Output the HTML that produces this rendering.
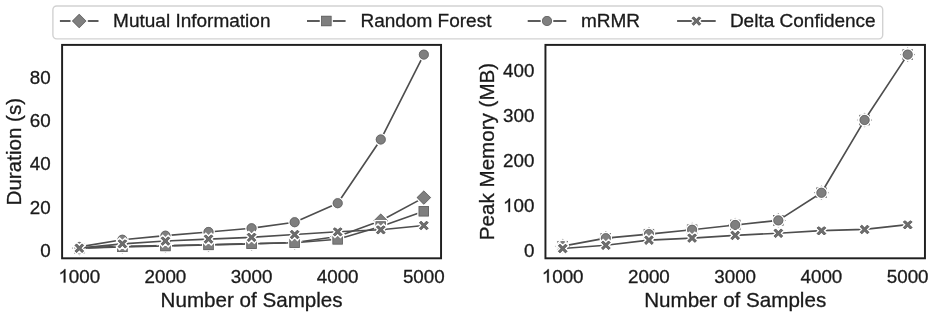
<!DOCTYPE html>
<html><head><meta charset="utf-8"><style>
html,body{margin:0;padding:0;background:#fff;}
body{width:935px;height:317px;overflow:hidden;font-family:"Liberation Sans", sans-serif;}
svg{display:block;filter:grayscale(1);}
text{fill:#1a1a1a;stroke:#1a1a1a;stroke-width:0.3px;}
</style></head><body>
<svg width="935" height="317" viewBox="0 0 935 317" font-family='"Liberation Sans", sans-serif' fill="#1a1a1a"><path d="M79.33 248.16 L122.39 246.43 L165.45 245.56 L208.51 244.70 L251.57 243.62 L294.64 242.54 L337.70 236.49 L380.76 220.72 L423.83 197.61" fill="none" stroke="#4e4e4e" stroke-width="1.65" stroke-linejoin="round" stroke-linecap="butt"/>
<path d="M79.33 239.97L87.51 248.16L79.33 256.35L71.14 248.16Z" fill="#7f7f7f" stroke="#fff" stroke-width="1.4" stroke-linejoin="miter"/><path d="M79.33 241.45L86.03 248.16L79.33 254.86L72.62 248.16Z" fill="none" stroke="#606060" stroke-width="0.7"/>
<path d="M122.39 238.24L130.58 246.43L122.39 254.62L114.20 246.43Z" fill="#7f7f7f" stroke="#fff" stroke-width="1.4" stroke-linejoin="miter"/><path d="M122.39 239.72L129.09 246.43L122.39 253.13L115.68 246.43Z" fill="none" stroke="#606060" stroke-width="0.7"/>
<path d="M165.45 237.37L173.64 245.56L165.45 253.75L157.26 245.56Z" fill="#7f7f7f" stroke="#fff" stroke-width="1.4" stroke-linejoin="miter"/><path d="M165.45 238.86L172.16 245.56L165.45 252.27L158.74 245.56Z" fill="none" stroke="#606060" stroke-width="0.7"/>
<path d="M208.51 236.51L216.70 244.70L208.51 252.89L200.32 244.70Z" fill="#7f7f7f" stroke="#fff" stroke-width="1.4" stroke-linejoin="miter"/><path d="M208.51 237.99L215.22 244.70L208.51 251.41L201.81 244.70Z" fill="none" stroke="#606060" stroke-width="0.7"/>
<path d="M251.57 235.43L259.76 243.62L251.57 251.81L243.39 243.62Z" fill="#7f7f7f" stroke="#fff" stroke-width="1.4" stroke-linejoin="miter"/><path d="M251.57 236.91L258.28 243.62L251.57 250.33L244.87 243.62Z" fill="none" stroke="#606060" stroke-width="0.7"/>
<path d="M294.64 234.35L302.83 242.54L294.64 250.73L286.45 242.54Z" fill="#7f7f7f" stroke="#fff" stroke-width="1.4" stroke-linejoin="miter"/><path d="M294.64 235.83L301.34 242.54L294.64 249.25L287.93 242.54Z" fill="none" stroke="#606060" stroke-width="0.7"/>
<path d="M337.70 228.30L345.89 236.49L337.70 244.68L329.51 236.49Z" fill="#7f7f7f" stroke="#fff" stroke-width="1.4" stroke-linejoin="miter"/><path d="M337.70 229.79L344.41 236.49L337.70 243.20L330.99 236.49Z" fill="none" stroke="#606060" stroke-width="0.7"/>
<path d="M380.76 212.53L388.95 220.72L380.76 228.91L372.57 220.72Z" fill="#7f7f7f" stroke="#fff" stroke-width="1.4" stroke-linejoin="miter"/><path d="M380.76 214.02L387.47 220.72L380.76 227.43L374.06 220.72Z" fill="none" stroke="#606060" stroke-width="0.7"/>
<path d="M423.83 189.42L432.01 197.61L423.83 205.80L415.64 197.61Z" fill="#7f7f7f" stroke="#fff" stroke-width="1.4" stroke-linejoin="miter"/><path d="M423.83 190.91L430.53 197.61L423.83 204.32L417.12 197.61Z" fill="none" stroke="#606060" stroke-width="0.7"/>
<path d="M79.33 248.16 L122.39 246.86 L165.45 246.00 L208.51 244.92 L251.57 243.84 L294.64 242.76 L337.70 239.30 L380.76 226.56 L423.83 211.22" fill="none" stroke="#4e4e4e" stroke-width="1.65" stroke-linejoin="round" stroke-linecap="butt"/>
<rect x="73.48" y="242.31" width="11.70" height="11.70" fill="#7f7f7f" stroke="#fff" stroke-width="1.4" stroke-linejoin="miter"/><rect x="74.53" y="243.36" width="9.60" height="9.60" fill="none" stroke="#606060" stroke-width="0.7"/>
<rect x="116.54" y="241.01" width="11.70" height="11.70" fill="#7f7f7f" stroke="#fff" stroke-width="1.4" stroke-linejoin="miter"/><rect x="117.59" y="242.06" width="9.60" height="9.60" fill="none" stroke="#606060" stroke-width="0.7"/>
<rect x="159.60" y="240.15" width="11.70" height="11.70" fill="#7f7f7f" stroke="#fff" stroke-width="1.4" stroke-linejoin="miter"/><rect x="160.65" y="241.20" width="9.60" height="9.60" fill="none" stroke="#606060" stroke-width="0.7"/>
<rect x="202.66" y="239.07" width="11.70" height="11.70" fill="#7f7f7f" stroke="#fff" stroke-width="1.4" stroke-linejoin="miter"/><rect x="203.71" y="240.12" width="9.60" height="9.60" fill="none" stroke="#606060" stroke-width="0.7"/>
<rect x="245.72" y="237.99" width="11.70" height="11.70" fill="#7f7f7f" stroke="#fff" stroke-width="1.4" stroke-linejoin="miter"/><rect x="246.77" y="239.04" width="9.60" height="9.60" fill="none" stroke="#606060" stroke-width="0.7"/>
<rect x="288.79" y="236.91" width="11.70" height="11.70" fill="#7f7f7f" stroke="#fff" stroke-width="1.4" stroke-linejoin="miter"/><rect x="289.84" y="237.96" width="9.60" height="9.60" fill="none" stroke="#606060" stroke-width="0.7"/>
<rect x="331.85" y="233.45" width="11.70" height="11.70" fill="#7f7f7f" stroke="#fff" stroke-width="1.4" stroke-linejoin="miter"/><rect x="332.90" y="234.50" width="9.60" height="9.60" fill="none" stroke="#606060" stroke-width="0.7"/>
<rect x="374.91" y="220.71" width="11.70" height="11.70" fill="#7f7f7f" stroke="#fff" stroke-width="1.4" stroke-linejoin="miter"/><rect x="375.96" y="221.76" width="9.60" height="9.60" fill="none" stroke="#606060" stroke-width="0.7"/>
<rect x="417.98" y="205.37" width="11.70" height="11.70" fill="#7f7f7f" stroke="#fff" stroke-width="1.4" stroke-linejoin="miter"/><rect x="419.03" y="206.42" width="9.60" height="9.60" fill="none" stroke="#606060" stroke-width="0.7"/>
<path d="M79.33 246.86 L122.39 239.73 L165.45 235.63 L208.51 231.96 L251.57 228.28 L294.64 222.24 L337.70 203.23 L380.76 139.51 L423.83 54.62" fill="none" stroke="#4e4e4e" stroke-width="1.65" stroke-linejoin="round" stroke-linecap="butt"/>
<circle cx="79.33" cy="246.86" r="5.650" fill="#7f7f7f" stroke="#fff" stroke-width="1.4" stroke-linejoin="miter"/><circle cx="79.33" cy="246.86" r="4.600" fill="none" stroke="#606060" stroke-width="0.7"/>
<circle cx="122.39" cy="239.73" r="5.650" fill="#7f7f7f" stroke="#fff" stroke-width="1.4" stroke-linejoin="miter"/><circle cx="122.39" cy="239.73" r="4.600" fill="none" stroke="#606060" stroke-width="0.7"/>
<circle cx="165.45" cy="235.63" r="5.650" fill="#7f7f7f" stroke="#fff" stroke-width="1.4" stroke-linejoin="miter"/><circle cx="165.45" cy="235.63" r="4.600" fill="none" stroke="#606060" stroke-width="0.7"/>
<circle cx="208.51" cy="231.96" r="5.650" fill="#7f7f7f" stroke="#fff" stroke-width="1.4" stroke-linejoin="miter"/><circle cx="208.51" cy="231.96" r="4.600" fill="none" stroke="#606060" stroke-width="0.7"/>
<circle cx="251.57" cy="228.28" r="5.650" fill="#7f7f7f" stroke="#fff" stroke-width="1.4" stroke-linejoin="miter"/><circle cx="251.57" cy="228.28" r="4.600" fill="none" stroke="#606060" stroke-width="0.7"/>
<circle cx="294.64" cy="222.24" r="5.650" fill="#7f7f7f" stroke="#fff" stroke-width="1.4" stroke-linejoin="miter"/><circle cx="294.64" cy="222.24" r="4.600" fill="none" stroke="#606060" stroke-width="0.7"/>
<circle cx="337.70" cy="203.23" r="5.650" fill="#7f7f7f" stroke="#fff" stroke-width="1.4" stroke-linejoin="miter"/><circle cx="337.70" cy="203.23" r="4.600" fill="none" stroke="#606060" stroke-width="0.7"/>
<circle cx="380.76" cy="139.51" r="5.650" fill="#7f7f7f" stroke="#fff" stroke-width="1.4" stroke-linejoin="miter"/><circle cx="380.76" cy="139.51" r="4.600" fill="none" stroke="#606060" stroke-width="0.7"/>
<circle cx="423.83" cy="54.62" r="5.650" fill="#7f7f7f" stroke="#fff" stroke-width="1.4" stroke-linejoin="miter"/><circle cx="423.83" cy="54.62" r="4.600" fill="none" stroke="#606060" stroke-width="0.7"/>
<path d="M79.33 248.16 L122.39 243.84 L165.45 241.03 L208.51 239.08 L251.57 237.36 L294.64 234.55 L337.70 231.74 L380.76 229.80 L423.83 225.48" fill="none" stroke="#4e4e4e" stroke-width="1.65" stroke-linejoin="round" stroke-linecap="butt"/>
<polygon points="82.08,242.36 85.12,245.40 82.37,248.16 85.12,250.91 82.08,253.95 79.33,251.20 76.57,253.95 73.53,250.91 76.28,248.16 73.53,245.40 76.57,242.36 79.33,245.12" fill="#6e6e6e" stroke="#fff" stroke-width="1.5" stroke-linejoin="miter"/><polygon points="82.08,243.84 83.64,245.40 80.88,248.16 83.64,250.91 82.08,252.47 79.33,249.71 76.57,252.47 75.01,250.91 77.77,248.16 75.01,245.40 76.57,243.84 79.33,246.60" fill="none" stroke="#5a5a5a" stroke-width="0.6" stroke-linejoin="miter"/>
<polygon points="125.15,238.04 128.19,241.08 125.43,243.84 128.19,246.59 125.15,249.63 122.39,246.88 119.63,249.63 116.59,246.59 119.35,243.84 116.59,241.08 119.63,238.04 122.39,240.80" fill="#6e6e6e" stroke="#fff" stroke-width="1.5" stroke-linejoin="miter"/><polygon points="125.15,239.52 126.70,241.08 123.94,243.84 126.70,246.59 125.15,248.15 122.39,245.39 119.63,248.15 118.07,246.59 120.83,243.84 118.07,241.08 119.63,239.52 122.39,242.28" fill="none" stroke="#5a5a5a" stroke-width="0.6" stroke-linejoin="miter"/>
<polygon points="168.21,235.23 171.25,238.27 168.49,241.03 171.25,243.79 168.21,246.83 165.45,244.07 162.69,246.83 159.65,243.79 162.41,241.03 159.65,238.27 162.69,235.23 165.45,237.99" fill="#6e6e6e" stroke="#fff" stroke-width="1.5" stroke-linejoin="miter"/><polygon points="168.21,236.71 169.76,238.27 167.01,241.03 169.76,243.79 168.21,245.34 165.45,242.58 162.69,245.34 161.14,243.79 163.89,241.03 161.14,238.27 162.69,236.71 165.45,239.47" fill="none" stroke="#5a5a5a" stroke-width="0.6" stroke-linejoin="miter"/>
<polygon points="211.27,233.29 214.31,236.33 211.55,239.08 214.31,241.84 211.27,244.88 208.51,242.12 205.75,244.88 202.71,241.84 205.47,239.08 202.71,236.33 205.75,233.29 208.51,236.04" fill="#6e6e6e" stroke="#fff" stroke-width="1.5" stroke-linejoin="miter"/><polygon points="211.27,234.77 212.83,236.33 210.07,239.08 212.83,241.84 211.27,243.40 208.51,240.64 205.75,243.40 204.20,241.84 206.96,239.08 204.20,236.33 205.75,234.77 208.51,237.53" fill="none" stroke="#5a5a5a" stroke-width="0.6" stroke-linejoin="miter"/>
<polygon points="254.33,231.56 257.37,234.60 254.62,237.36 257.37,240.11 254.33,243.15 251.57,240.40 248.82,243.15 245.78,240.11 248.53,237.36 245.78,234.60 248.82,231.56 251.57,234.32" fill="#6e6e6e" stroke="#fff" stroke-width="1.5" stroke-linejoin="miter"/><polygon points="254.33,233.04 255.89,234.60 253.13,237.36 255.89,240.11 254.33,241.67 251.57,238.91 248.82,241.67 247.26,240.11 250.02,237.36 247.26,234.60 248.82,233.04 251.57,235.80" fill="none" stroke="#5a5a5a" stroke-width="0.6" stroke-linejoin="miter"/>
<polygon points="297.40,228.75 300.44,231.79 297.68,234.55 300.44,237.31 297.40,240.35 294.64,237.59 291.88,240.35 288.84,237.31 291.60,234.55 288.84,231.79 291.88,228.75 294.64,231.51" fill="#6e6e6e" stroke="#fff" stroke-width="1.5" stroke-linejoin="miter"/><polygon points="297.40,230.23 298.95,231.79 296.19,234.55 298.95,237.31 297.40,238.86 294.64,236.10 291.88,238.86 290.32,237.31 293.08,234.55 290.32,231.79 291.88,230.23 294.64,232.99" fill="none" stroke="#5a5a5a" stroke-width="0.6" stroke-linejoin="miter"/>
<polygon points="340.46,225.94 343.50,228.98 340.74,231.74 343.50,234.50 340.46,237.54 337.70,234.78 334.94,237.54 331.90,234.50 334.66,231.74 331.90,228.98 334.94,225.94 337.70,228.70" fill="#6e6e6e" stroke="#fff" stroke-width="1.5" stroke-linejoin="miter"/><polygon points="340.46,227.43 342.01,228.98 339.26,231.74 342.01,234.50 340.46,236.05 337.70,233.30 334.94,236.05 333.39,234.50 336.14,231.74 333.39,228.98 334.94,227.43 337.70,230.18" fill="none" stroke="#5a5a5a" stroke-width="0.6" stroke-linejoin="miter"/>
<polygon points="383.52,224.00 386.56,227.04 383.80,229.80 386.56,232.55 383.52,235.59 380.76,232.84 378.00,235.59 374.96,232.55 377.72,229.80 374.96,227.04 378.00,224.00 380.76,226.76" fill="#6e6e6e" stroke="#fff" stroke-width="1.5" stroke-linejoin="miter"/><polygon points="383.52,225.48 385.08,227.04 382.32,229.80 385.08,232.55 383.52,234.11 380.76,231.35 378.00,234.11 376.45,232.55 379.21,229.80 376.45,227.04 378.00,225.48 380.76,228.24" fill="none" stroke="#5a5a5a" stroke-width="0.6" stroke-linejoin="miter"/>
<polygon points="426.58,219.68 429.62,222.72 426.87,225.48 429.62,228.23 426.58,231.27 423.83,228.52 421.07,231.27 418.03,228.23 420.78,225.48 418.03,222.72 421.07,219.68 423.83,222.44" fill="#6e6e6e" stroke="#fff" stroke-width="1.5" stroke-linejoin="miter"/><polygon points="426.58,221.16 428.14,222.72 425.38,225.48 428.14,228.23 426.58,229.79 423.83,227.03 421.07,229.79 419.51,228.23 422.27,225.48 419.51,222.72 421.07,221.16 423.83,223.92" fill="none" stroke="#5a5a5a" stroke-width="0.6" stroke-linejoin="miter"/>
<rect x="62.10" y="44.90" width="378.95" height="213.40" fill="none" stroke="#1f1f1f" stroke-width="1.95"/>
<text x="58.41" y="282.60" font-size="18.8"><tspan style="fill:none;stroke:none">1</tspan>000</text>
<path transform="translate(58.41 282.60) scale(18.8 -18.8)" d="M0.3726,0 L0.2847,0 L0.2847,0.560 Q0.2529,0.530 0.2124,0.500 Q0.1600,0.463 0.1089,0.445 L0.1089,0.530 Q0.1724,0.560 0.2261,0.603 Q0.2803,0.647 0.3027,0.687 L0.3184,0.716 L0.3726,0.716 Z" fill="#1a1a1a" stroke="#1a1a1a" stroke-width="0.0160"/>
<text x="144.54" y="282.60" font-size="18.8">2000</text>
<text x="230.66" y="282.60" font-size="18.8">3000</text>
<text x="316.79" y="282.60" font-size="18.8">4000</text>
<text x="402.91" y="282.60" font-size="18.8">5000</text>
<text x="40.14" y="256.80" font-size="18.8">0</text>
<text x="29.69" y="213.60" font-size="18.8">20</text>
<text x="29.69" y="170.40" font-size="18.8">40</text>
<text x="29.69" y="127.20" font-size="18.8">60</text>
<text x="29.69" y="84.00" font-size="18.8">80</text>
<text x="251.58" y="307.0" text-anchor="middle" font-size="20.6">Number of Samples</text>
<path d="M562.70 237.93L570.89 246.12L562.70 254.31L554.51 246.12Z" fill="#7f7f7f" stroke="#fff" stroke-width="1.4" stroke-linejoin="miter"/><path d="M562.70 239.41L569.41 246.12L562.70 252.82L555.99 246.12Z" fill="none" stroke="#606060" stroke-width="0.7"/>
<path d="M605.83 229.99L614.01 238.18L605.83 246.37L597.64 238.18Z" fill="#7f7f7f" stroke="#fff" stroke-width="1.4" stroke-linejoin="miter"/><path d="M605.83 231.47L612.53 238.18L605.83 244.88L599.12 238.18Z" fill="none" stroke="#606060" stroke-width="0.7"/>
<path d="M648.95 225.93L657.14 234.12L648.95 242.31L640.76 234.12Z" fill="#7f7f7f" stroke="#fff" stroke-width="1.4" stroke-linejoin="miter"/><path d="M648.95 227.41L655.66 234.12L648.95 240.82L642.24 234.12Z" fill="none" stroke="#606060" stroke-width="0.7"/>
<path d="M692.08 221.60L700.26 229.79L692.08 237.97L683.89 229.79Z" fill="#7f7f7f" stroke="#fff" stroke-width="1.4" stroke-linejoin="miter"/><path d="M692.08 223.08L698.78 229.79L692.08 236.49L685.37 229.79Z" fill="none" stroke="#606060" stroke-width="0.7"/>
<path d="M735.20 216.77L743.39 224.96L735.20 233.15L727.01 224.96Z" fill="#7f7f7f" stroke="#fff" stroke-width="1.4" stroke-linejoin="miter"/><path d="M735.20 218.25L741.91 224.96L735.20 231.66L728.49 224.96Z" fill="none" stroke="#606060" stroke-width="0.7"/>
<path d="M778.33 212.21L786.51 220.40L778.33 228.59L770.14 220.40Z" fill="#7f7f7f" stroke="#fff" stroke-width="1.4" stroke-linejoin="miter"/><path d="M778.33 213.69L785.03 220.40L778.33 227.11L771.62 220.40Z" fill="none" stroke="#606060" stroke-width="0.7"/>
<path d="M821.45 184.60L829.64 192.79L821.45 200.98L813.26 192.79Z" fill="#7f7f7f" stroke="#fff" stroke-width="1.4" stroke-linejoin="miter"/><path d="M821.45 186.08L828.16 192.79L821.45 199.49L814.74 192.79Z" fill="none" stroke="#606060" stroke-width="0.7"/>
<path d="M864.58 111.86L872.76 120.05L864.58 128.24L856.39 120.05Z" fill="#7f7f7f" stroke="#fff" stroke-width="1.4" stroke-linejoin="miter"/><path d="M864.58 113.35L871.28 120.05L864.58 126.76L857.87 120.05Z" fill="none" stroke="#606060" stroke-width="0.7"/>
<path d="M907.70 46.39L915.89 54.58L907.70 62.77L899.51 54.58Z" fill="#7f7f7f" stroke="#fff" stroke-width="1.4" stroke-linejoin="miter"/><path d="M907.70 47.88L914.41 54.58L907.70 61.29L900.99 54.58Z" fill="none" stroke="#606060" stroke-width="0.7"/>
<rect x="556.85" y="240.27" width="11.70" height="11.70" fill="#7f7f7f" stroke="#fff" stroke-width="1.4" stroke-linejoin="miter"/><rect x="557.90" y="241.32" width="9.60" height="9.60" fill="none" stroke="#606060" stroke-width="0.7"/>
<rect x="599.98" y="232.33" width="11.70" height="11.70" fill="#7f7f7f" stroke="#fff" stroke-width="1.4" stroke-linejoin="miter"/><rect x="601.03" y="233.38" width="9.60" height="9.60" fill="none" stroke="#606060" stroke-width="0.7"/>
<rect x="643.10" y="228.27" width="11.70" height="11.70" fill="#7f7f7f" stroke="#fff" stroke-width="1.4" stroke-linejoin="miter"/><rect x="644.15" y="229.32" width="9.60" height="9.60" fill="none" stroke="#606060" stroke-width="0.7"/>
<rect x="686.23" y="223.94" width="11.70" height="11.70" fill="#7f7f7f" stroke="#fff" stroke-width="1.4" stroke-linejoin="miter"/><rect x="687.28" y="224.99" width="9.60" height="9.60" fill="none" stroke="#606060" stroke-width="0.7"/>
<rect x="729.35" y="219.11" width="11.70" height="11.70" fill="#7f7f7f" stroke="#fff" stroke-width="1.4" stroke-linejoin="miter"/><rect x="730.40" y="220.16" width="9.60" height="9.60" fill="none" stroke="#606060" stroke-width="0.7"/>
<rect x="772.48" y="214.55" width="11.70" height="11.70" fill="#7f7f7f" stroke="#fff" stroke-width="1.4" stroke-linejoin="miter"/><rect x="773.53" y="215.60" width="9.60" height="9.60" fill="none" stroke="#606060" stroke-width="0.7"/>
<rect x="815.60" y="186.94" width="11.70" height="11.70" fill="#7f7f7f" stroke="#fff" stroke-width="1.4" stroke-linejoin="miter"/><rect x="816.65" y="187.99" width="9.60" height="9.60" fill="none" stroke="#606060" stroke-width="0.7"/>
<rect x="858.73" y="114.20" width="11.70" height="11.70" fill="#7f7f7f" stroke="#fff" stroke-width="1.4" stroke-linejoin="miter"/><rect x="859.78" y="115.25" width="9.60" height="9.60" fill="none" stroke="#606060" stroke-width="0.7"/>
<rect x="901.85" y="48.73" width="11.70" height="11.70" fill="#7f7f7f" stroke="#fff" stroke-width="1.4" stroke-linejoin="miter"/><rect x="902.90" y="49.78" width="9.60" height="9.60" fill="none" stroke="#606060" stroke-width="0.7"/>
<path d="M562.70 246.12 L605.83 238.18 L648.95 234.12 L692.08 229.79 L735.20 224.96 L778.33 220.40 L821.45 192.79 L864.58 120.05 L907.70 54.58" fill="none" stroke="#4e4e4e" stroke-width="1.65" stroke-linejoin="round" stroke-linecap="butt"/>
<circle cx="562.70" cy="246.12" r="5.650" fill="#7f7f7f" stroke="#fff" stroke-width="1.4" stroke-linejoin="miter"/><circle cx="562.70" cy="246.12" r="4.600" fill="none" stroke="#606060" stroke-width="0.7"/>
<circle cx="605.83" cy="238.18" r="5.650" fill="#7f7f7f" stroke="#fff" stroke-width="1.4" stroke-linejoin="miter"/><circle cx="605.83" cy="238.18" r="4.600" fill="none" stroke="#606060" stroke-width="0.7"/>
<circle cx="648.95" cy="234.12" r="5.650" fill="#7f7f7f" stroke="#fff" stroke-width="1.4" stroke-linejoin="miter"/><circle cx="648.95" cy="234.12" r="4.600" fill="none" stroke="#606060" stroke-width="0.7"/>
<circle cx="692.08" cy="229.79" r="5.650" fill="#7f7f7f" stroke="#fff" stroke-width="1.4" stroke-linejoin="miter"/><circle cx="692.08" cy="229.79" r="4.600" fill="none" stroke="#606060" stroke-width="0.7"/>
<circle cx="735.20" cy="224.96" r="5.650" fill="#7f7f7f" stroke="#fff" stroke-width="1.4" stroke-linejoin="miter"/><circle cx="735.20" cy="224.96" r="4.600" fill="none" stroke="#606060" stroke-width="0.7"/>
<circle cx="778.33" cy="220.40" r="5.650" fill="#7f7f7f" stroke="#fff" stroke-width="1.4" stroke-linejoin="miter"/><circle cx="778.33" cy="220.40" r="4.600" fill="none" stroke="#606060" stroke-width="0.7"/>
<circle cx="821.45" cy="192.79" r="5.650" fill="#7f7f7f" stroke="#fff" stroke-width="1.4" stroke-linejoin="miter"/><circle cx="821.45" cy="192.79" r="4.600" fill="none" stroke="#606060" stroke-width="0.7"/>
<circle cx="864.58" cy="120.05" r="5.650" fill="#7f7f7f" stroke="#fff" stroke-width="1.4" stroke-linejoin="miter"/><circle cx="864.58" cy="120.05" r="4.600" fill="none" stroke="#606060" stroke-width="0.7"/>
<circle cx="907.70" cy="54.58" r="5.650" fill="#7f7f7f" stroke="#fff" stroke-width="1.4" stroke-linejoin="miter"/><circle cx="907.70" cy="54.58" r="4.600" fill="none" stroke="#606060" stroke-width="0.7"/>
<path d="M562.70 248.55 L605.83 245.26 L648.95 240.12 L692.08 238.09 L735.20 235.38 L778.33 233.21 L821.45 230.69 L864.58 229.42 L907.70 224.69" fill="none" stroke="#4e4e4e" stroke-width="1.65" stroke-linejoin="round" stroke-linecap="butt"/>
<polygon points="565.46,242.76 568.50,245.80 565.74,248.55 568.50,251.31 565.46,254.35 562.70,251.60 559.94,254.35 556.90,251.31 559.66,248.55 556.90,245.80 559.94,242.76 562.70,245.51" fill="#6e6e6e" stroke="#fff" stroke-width="1.5" stroke-linejoin="miter"/><polygon points="565.46,244.24 567.01,245.80 564.26,248.55 567.01,251.31 565.46,252.87 562.70,250.11 559.94,252.87 558.39,251.31 561.14,248.55 558.39,245.80 559.94,244.24 562.70,247.00" fill="none" stroke="#5a5a5a" stroke-width="0.6" stroke-linejoin="miter"/>
<polygon points="608.58,239.46 611.62,242.50 608.87,245.26 611.62,248.02 608.58,251.06 605.83,248.30 603.07,251.06 600.03,248.02 602.78,245.26 600.03,242.50 603.07,239.46 605.83,242.22" fill="#6e6e6e" stroke="#fff" stroke-width="1.5" stroke-linejoin="miter"/><polygon points="608.58,240.95 610.14,242.50 607.38,245.26 610.14,248.02 608.58,249.57 605.83,246.82 603.07,249.57 601.51,248.02 604.27,245.26 601.51,242.50 603.07,240.95 605.83,243.71" fill="none" stroke="#5a5a5a" stroke-width="0.6" stroke-linejoin="miter"/>
<polygon points="651.71,234.32 654.75,237.36 651.99,240.12 654.75,242.88 651.71,245.92 648.95,243.16 646.19,245.92 643.15,242.88 645.91,240.12 643.15,237.36 646.19,234.32 648.95,237.08" fill="#6e6e6e" stroke="#fff" stroke-width="1.5" stroke-linejoin="miter"/><polygon points="651.71,235.80 653.26,237.36 650.51,240.12 653.26,242.88 651.71,244.43 648.95,241.67 646.19,244.43 644.64,242.88 647.39,240.12 644.64,237.36 646.19,235.80 648.95,238.56" fill="none" stroke="#5a5a5a" stroke-width="0.6" stroke-linejoin="miter"/>
<polygon points="694.83,232.29 697.87,235.33 695.12,238.09 697.87,240.84 694.83,243.89 692.08,241.13 689.32,243.89 686.28,240.84 689.03,238.09 686.28,235.33 689.32,232.29 692.08,235.05" fill="#6e6e6e" stroke="#fff" stroke-width="1.5" stroke-linejoin="miter"/><polygon points="694.83,233.77 696.39,235.33 693.63,238.09 696.39,240.84 694.83,242.40 692.08,239.64 689.32,242.40 687.76,240.84 690.52,238.09 687.76,235.33 689.32,233.77 692.08,236.53" fill="none" stroke="#5a5a5a" stroke-width="0.6" stroke-linejoin="miter"/>
<polygon points="737.96,229.58 741.00,232.62 738.24,235.38 741.00,238.14 737.96,241.18 735.20,238.42 732.44,241.18 729.40,238.14 732.16,235.38 729.40,232.62 732.44,229.58 735.20,232.34" fill="#6e6e6e" stroke="#fff" stroke-width="1.5" stroke-linejoin="miter"/><polygon points="737.96,231.07 739.51,232.62 736.76,235.38 739.51,238.14 737.96,239.69 735.20,236.94 732.44,239.69 730.89,238.14 733.64,235.38 730.89,232.62 732.44,231.07 735.20,233.82" fill="none" stroke="#5a5a5a" stroke-width="0.6" stroke-linejoin="miter"/>
<polygon points="781.08,227.42 784.12,230.46 781.37,233.21 784.12,235.97 781.08,239.01 778.33,236.25 775.57,239.01 772.53,235.97 775.28,233.21 772.53,230.46 775.57,227.42 778.33,230.17" fill="#6e6e6e" stroke="#fff" stroke-width="1.5" stroke-linejoin="miter"/><polygon points="781.08,228.90 782.64,230.46 779.88,233.21 782.64,235.97 781.08,237.53 778.33,234.77 775.57,237.53 774.01,235.97 776.77,233.21 774.01,230.46 775.57,228.90 778.33,231.66" fill="none" stroke="#5a5a5a" stroke-width="0.6" stroke-linejoin="miter"/>
<polygon points="824.21,224.89 827.25,227.93 824.49,230.69 827.25,233.45 824.21,236.49 821.45,233.73 818.69,236.49 815.65,233.45 818.41,230.69 815.65,227.93 818.69,224.89 821.45,227.65" fill="#6e6e6e" stroke="#fff" stroke-width="1.5" stroke-linejoin="miter"/><polygon points="824.21,226.37 825.76,227.93 823.01,230.69 825.76,233.45 824.21,235.00 821.45,232.24 818.69,235.00 817.14,233.45 819.89,230.69 817.14,227.93 818.69,226.37 821.45,229.13" fill="none" stroke="#5a5a5a" stroke-width="0.6" stroke-linejoin="miter"/>
<polygon points="867.33,223.63 870.37,226.67 867.62,229.42 870.37,232.18 867.33,235.22 864.58,232.46 861.82,235.22 858.78,232.18 861.53,229.42 858.78,226.67 861.82,223.63 864.58,226.38" fill="#6e6e6e" stroke="#fff" stroke-width="1.5" stroke-linejoin="miter"/><polygon points="867.33,225.11 868.89,226.67 866.13,229.42 868.89,232.18 867.33,233.74 864.58,230.98 861.82,233.74 860.26,232.18 863.02,229.42 860.26,226.67 861.82,225.11 864.58,227.87" fill="none" stroke="#5a5a5a" stroke-width="0.6" stroke-linejoin="miter"/>
<polygon points="910.46,218.89 913.50,221.93 910.74,224.69 913.50,227.44 910.46,230.48 907.70,227.73 904.94,230.48 901.90,227.44 904.66,224.69 901.90,221.93 904.94,218.89 907.70,221.65" fill="#6e6e6e" stroke="#fff" stroke-width="1.5" stroke-linejoin="miter"/><polygon points="910.46,220.37 912.01,221.93 909.26,224.69 912.01,227.44 910.46,229.00 907.70,226.24 904.94,229.00 903.39,227.44 906.14,224.69 903.39,221.93 904.94,220.37 907.70,223.13" fill="none" stroke="#5a5a5a" stroke-width="0.6" stroke-linejoin="miter"/>
<rect x="545.45" y="44.90" width="379.50" height="213.40" fill="none" stroke="#1f1f1f" stroke-width="1.95"/>
<text x="541.79" y="282.60" font-size="18.8"><tspan style="fill:none;stroke:none">1</tspan>000</text>
<path transform="translate(541.79 282.60) scale(18.8 -18.8)" d="M0.3726,0 L0.2847,0 L0.2847,0.560 Q0.2529,0.530 0.2124,0.500 Q0.1600,0.463 0.1089,0.445 L0.1089,0.530 Q0.1724,0.560 0.2261,0.603 Q0.2803,0.647 0.3027,0.687 L0.3184,0.716 L0.3726,0.716 Z" fill="#1a1a1a" stroke="#1a1a1a" stroke-width="0.0160"/>
<text x="628.04" y="282.60" font-size="18.8">2000</text>
<text x="714.29" y="282.60" font-size="18.8">3000</text>
<text x="800.54" y="282.60" font-size="18.8">4000</text>
<text x="886.79" y="282.60" font-size="18.8">5000</text>
<text x="523.94" y="257.15" font-size="18.8">0</text>
<text x="503.03" y="212.03" font-size="18.8"><tspan style="fill:none;stroke:none">1</tspan>00</text>
<path transform="translate(503.03 212.03) scale(18.8 -18.8)" d="M0.3726,0 L0.2847,0 L0.2847,0.560 Q0.2529,0.530 0.2124,0.500 Q0.1600,0.463 0.1089,0.445 L0.1089,0.530 Q0.1724,0.560 0.2261,0.603 Q0.2803,0.647 0.3027,0.687 L0.3184,0.716 L0.3726,0.716 Z" fill="#1a1a1a" stroke="#1a1a1a" stroke-width="0.0160"/>
<text x="503.03" y="166.91" font-size="18.8">200</text>
<text x="503.03" y="121.79" font-size="18.8">300</text>
<text x="503.03" y="76.67" font-size="18.8">400</text>
<text x="735.20" y="307.0" text-anchor="middle" font-size="20.6">Number of Samples</text>
<text transform="translate(20.8 151.7) rotate(-90)" text-anchor="middle" font-size="20.6">Duration (s)</text>
<text transform="translate(494.0 151.5) rotate(-90)" text-anchor="middle" font-size="20.6">Peak Memory (MB)</text>
<rect x="52.9" y="6.0" width="829.8" height="32.9" rx="3.8" ry="3.8" fill="#fff" fill-opacity="0.8" stroke="#d2d2d2" stroke-width="1.4"/>
<path d="M59.90 21.0L98.50 21.0" stroke="#5c5c5c" stroke-width="1.8"/>
<path d="M79.20 12.81L87.39 21.00L79.20 29.19L71.01 21.00Z" fill="#7f7f7f" stroke="#fff" stroke-width="1.4" stroke-linejoin="miter"/><path d="M79.20 14.29L85.91 21.00L79.20 27.71L72.49 21.00Z" fill="none" stroke="#606060" stroke-width="0.7"/>
<text x="113.10" y="27.4" font-size="19.0">Mutual Information</text>
<path d="M307.00 21.0L345.60 21.0" stroke="#5c5c5c" stroke-width="1.8"/>
<rect x="320.45" y="15.15" width="11.70" height="11.70" fill="#7f7f7f" stroke="#fff" stroke-width="1.4" stroke-linejoin="miter"/><rect x="321.50" y="16.20" width="9.60" height="9.60" fill="none" stroke="#606060" stroke-width="0.7"/>
<text x="360.50" y="27.4" font-size="19.0">Random Forest</text>
<path d="M527.70 21.0L566.30 21.0" stroke="#5c5c5c" stroke-width="1.8"/>
<circle cx="547.00" cy="21.00" r="5.650" fill="#7f7f7f" stroke="#fff" stroke-width="1.4" stroke-linejoin="miter"/><circle cx="547.00" cy="21.00" r="4.600" fill="none" stroke="#606060" stroke-width="0.7"/>
<text x="580.90" y="27.4" font-size="19.0">mRMR</text>
<path d="M677.10 21.0L715.70 21.0" stroke="#5c5c5c" stroke-width="1.8"/>
<polygon points="699.16,15.20 702.20,18.24 699.44,21.00 702.20,23.76 699.16,26.80 696.40,24.04 693.64,26.80 690.60,23.76 693.36,21.00 690.60,18.24 693.64,15.20 696.40,17.96" fill="#6e6e6e" stroke="#fff" stroke-width="1.5" stroke-linejoin="miter"/><polygon points="699.16,16.69 700.71,18.24 697.96,21.00 700.71,23.76 699.16,25.31 696.40,22.56 693.64,25.31 692.09,23.76 694.84,21.00 692.09,18.24 693.64,16.69 696.40,19.44" fill="none" stroke="#5a5a5a" stroke-width="0.6" stroke-linejoin="miter"/>
<text x="729.90" y="27.4" font-size="19.0">Delta Confidence</text></svg>
</body></html>
